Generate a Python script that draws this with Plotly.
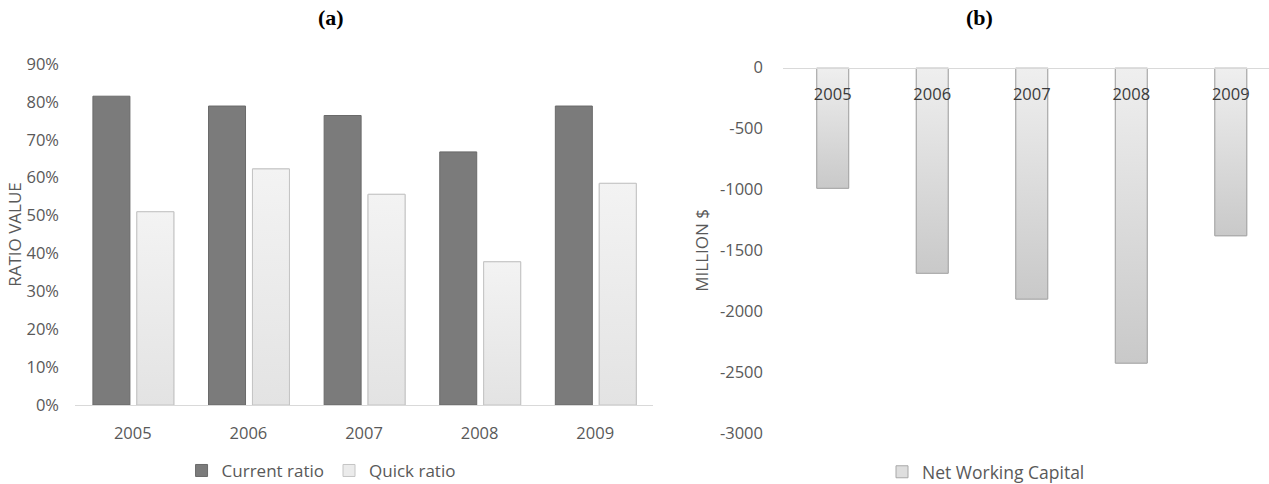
import plotly.graph_objects as go

years = ["2005", "2006", "2007", "2008", "2009"]
current_ratio = [0.815, 0.789, 0.764, 0.668, 0.789]
quick_ratio = [0.510, 0.623, 0.556, 0.378, 0.585]
net_working_capital = [-990, -1688, -1900, -2426, -1380]

pct_ticks = [0, 0.1, 0.2, 0.3, 0.4, 0.5, 0.6, 0.7, 0.8, 0.9]
pct_labels = ["0%", "10%", "20%", "30%", "40%", "50%", "60%", "70%", "80%", "90%"]
nwc_ticks = [0, -500, -1000, -1500, -2000, -2500, -3000]
nwc_labels = ["0", "-500", "-1000", "-1500", "-2000", "-2500", "-3000"]

FONT = "Open Sans"
TXT = "#595959"
TICK = 16.5
idx = list(range(len(years)))

W = 0.32
OFF_CUR, OFF_QUICK, OFF_NWC = -0.345, 0.035, -0.16


def grad_bar(i, v, off, c_low, c_high, line_color, xa, ya):
    x0 = i + off
    x1 = x0 + W
    lo, hi = min(0, v), max(0, v)
    return go.Scatter(
        x=[x0, x1, x1, x0, x0], y=[0, 0, v, v, 0],
        fill="toself", mode="lines",
        line=dict(color=line_color, width=1),
        fillgradient=dict(type="vertical", colorscale=[[0, c_low], [1, c_high]],
                          start=lo, stop=hi),
        showlegend=False, hoverinfo="skip", xaxis=xa, yaxis=ya,
    )


fig = go.Figure()

fig.add_trace(go.Bar(
    x=idx, y=current_ratio, name="Current ratio",
    marker=dict(color="#7b7b7b", line=dict(color="#6a6a6a", width=1)),
    width=W, offset=OFF_CUR, xaxis="x", yaxis="y", legend="legend",
))
fig.add_trace(go.Bar(
    x=idx, y=quick_ratio, name="Quick ratio",
    marker=dict(color="#ebebeb", line=dict(color="#c4c4c4", width=1)),
    width=W, offset=OFF_QUICK, xaxis="x", yaxis="y", legend="legend",
))
for i, v in zip(idx, quick_ratio):
    fig.add_trace(grad_bar(i, v, OFF_QUICK, "#e3e3e3", "#f3f3f3", "#c4c4c4", "x", "y"))

fig.add_trace(go.Bar(
    x=idx, y=net_working_capital, name="Net Working Capital",
    marker=dict(color="#dedede", line=dict(color="#a8a8a8", width=1)),
    width=W, offset=OFF_NWC, xaxis="x2", yaxis="y2", legend="legend2",
))
for i, v in zip(idx, net_working_capital):
    fig.add_trace(grad_bar(i, v, OFF_NWC, "#c9c9c9", "#efefef", "#a8a8a8", "x2", "y2"))

fig.update_layout(
    template="none",
    width=1269, height=484,
    margin=dict(l=0, r=0, t=0, b=0, autoexpand=False),
    paper_bgcolor="white", plot_bgcolor="white",
    font=dict(family=FONT, color=TXT, size=15),
    barmode="overlay",
    xaxis=dict(
        domain=[0.0591, 0.5146], anchor="y", automargin=False,
        range=[-0.5, 4.5], tickvals=idx, ticktext=years,
        showline=True, linecolor="#d9d9d9", linewidth=1,
        ticks="", showgrid=False, zeroline=False,
        tickfont=dict(family=FONT, size=TICK, color=TXT),
        ticklabelstandoff=13,
    ),
    yaxis=dict(
        domain=[0.1632, 0.8678], anchor="x", automargin=False,
        range=[0, 0.9], tickvals=pct_ticks, ticktext=pct_labels,
        showline=False, showgrid=False, zeroline=False, ticks="",
        tickfont=dict(family=FONT, size=TICK, color=TXT),
        ticklabelstandoff=15,
        title=dict(text="RATIO VALUE", font=dict(family=FONT, size=17, color=TXT), standoff=0),
    ),
    xaxis2=dict(
        domain=[0.617, 1.0], anchor="free", position=0.8601, side="bottom", automargin=False,
        range=[-0.5, 4.384], tickvals=idx, ticktext=years,
        showline=True, linecolor="#d9d9d9", linewidth=1,
        ticks="", showgrid=False, zeroline=False,
        tickfont=dict(family=FONT, size=TICK, color="#3a3a3a"),
        ticklabelstandoff=11,
    ),
    yaxis2=dict(
        domain=[0.1054, 0.8601], anchor="x2", automargin=False,
        range=[-3000, 0], tickvals=nwc_ticks, ticktext=nwc_labels,
        showline=False, showgrid=False, zeroline=False, ticks="",
        tickfont=dict(family=FONT, size=TICK, color=TXT),
        ticklabelstandoff=19,
        title=dict(text="MILLION $", font=dict(family=FONT, size=17, color=TXT), standoff=6),
    ),
    legend=dict(
        orientation="h", x=0.253, xanchor="center", y=0.027, yanchor="middle",
        xref="container", yref="container",
        font=dict(family=FONT, size=17, color=TXT), bgcolor="rgba(0,0,0,0)",
        itemwidth=30,
    ),
    legend2=dict(
        orientation="h", x=0.777, xanchor="center", y=0.025, yanchor="middle",
        xref="container", yref="container",
        font=dict(family=FONT, size=17.5, color=TXT), bgcolor="rgba(0,0,0,0)",
        itemwidth=30,
    ),
    annotations=[
        dict(text="<b>(a)</b>", x=331 / 1269, y=1 - 17 / 484, xref="paper", yref="paper",
             xanchor="center", yanchor="middle",
             showarrow=False, font=dict(family="Liberation Serif", size=22, color="black")),
        dict(text="<b>(b)</b>", x=979 / 1269, y=1 - 17 / 484, xref="paper", yref="paper",
             xanchor="center", yanchor="middle",
             showarrow=False, font=dict(family="Liberation Serif", size=22, color="black")),
    ],
)

fig.write_html("out.html")
